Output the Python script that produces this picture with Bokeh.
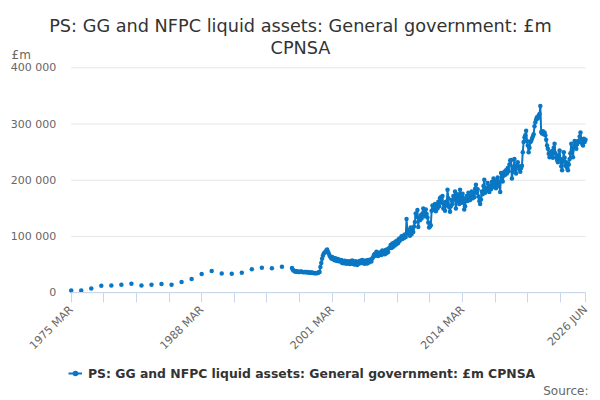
import math
from bokeh.plotting import figure
from bokeh.models import (Range1d, FixedTicker, Label, Legend, LegendItem,
                          ColumnDataSource)
from bokeh.embed import file_html
from bokeh.resources import INLINE

# ---------------- data ----------------
title_line1 = "PS: GG and NFPC liquid assets: General government: £m"
title_line2 = "CPNSA"
series_name = "PS: GG and NFPC liquid assets: General government: £m CPNSA"
unit_label = "£m"
source_label = "Source:"

# annual observations (March of each year)
annual_years = list(range(1975, 1997))
annual_values = [4200, 4200, 7700, 12500, 13000, 14300, 16000, 13000, 14300,
                 15500, 14300, 19000, 24400, 33300, 38700, 34500, 34000,
                 35700, 41700, 44600, 43500, 46400]

# monthly observations from 1997 MAR to 2026 JUN
monthly_start = "1997 MAR"
monthly_values = [
    44000, 41000, 39500, 38500, 38000, 38200, 37600, 37900, 37200, 37000,                  # 1997
    37500, 37800, 36900, 37100, 36600, 36800, 37200, 36500, 36900, 36300, 36600, 36000,    # 1998
    35800, 35500, 35900, 35200, 35000, 34800, 35300, 34900, 35100, 35400, 36500, 37200,    # 1999
    46000, 53000, 60700, 66000, 70000, 71000, 72600, 75000, 77000, 73000, 70000, 66000,    # 2000
    63700, 61000, 63500, 59500, 62000, 58000, 61500, 57500, 56500, 60000, 56000, 58500,    # 2001
    55500, 58500, 53000, 56500, 52500, 57000, 54000, 51500, 56000, 52500, 55500, 51000,    # 2002
    56000, 52000, 57500, 51000, 55000, 50500, 56000, 52500, 49500, 55000, 51500, 56500,    # 2003
    57000, 53000, 58500, 52500, 56000, 51500, 57500, 53500, 52000, 58500, 54000, 57500,    # 2004
    59000, 55500, 61000, 63000, 67000, 69000, 66000, 73000, 67500, 65500, 71000, 67000,    # 2005
    72000, 67000, 75000, 69500, 73500, 68500, 76000, 70500, 77500, 72500, 79000, 80000,    # 2006
    85000, 79500, 87500, 82000, 89000, 84000, 91000, 86500, 93000, 88500, 96000, 92500,    # 2007
    97000, 100500, 95500, 101500, 97500, 103500, 99000, 131000, 112000, 105000, 108500, 101500,  # 2008
    116000, 104000, 113000, 108000, 118000, 126000, 141000, 135000, 147000, 117000, 133000, 129000,  # 2009
    138000, 132000, 141000, 150000, 145000, 136000, 148000, 140000, 134000, 125000, 116000, 118000,  # 2010
    120000, 146000, 155000, 148000, 152000, 158000, 145000, 156000, 150000, 162000, 154000, 168000,  # 2011
    170000, 160000, 172000, 150000, 158000, 146000, 162000, 155000, 183000, 168000, 152000, 144000,  # 2012
    154000, 165000, 158000, 172000, 166000, 180000, 150000, 163000, 175000, 168000, 158000, 183000,  # 2013
    171000, 160000, 176000, 168000, 148000, 154000, 166000, 172000, 163000, 178000, 170000, 165000,  # 2014
    172000, 180000, 168000, 176000, 170000, 185000, 192000, 178000, 184000, 171000, 163000, 158000,  # 2015
    166000, 180000, 175000, 190000, 201000, 178000, 186000, 182000, 195000, 184000, 179000, 190000,  # 2016
    184000, 197000, 188000, 203000, 192000, 199000, 186000, 194000, 205000, 190000, 198000, 179000,  # 2017
    213000, 206000, 198000, 208000, 215000, 210000, 218000, 212000, 222000, 216000, 228000, 235000,  # 2018
    236000, 203000, 215000, 224000, 238000, 219000, 212000, 226000, 232000, 225000, 220000, 215000,  # 2019
    222000, 226000, 250000, 268000, 276000, 280000, 288000, 270000, 262000, 250000, 258000, 268000,  # 2020
    270000, 274000, 278000, 282000, 296000, 303000, 308000, 312000, 310000, 315000, 318000, 332000,  # 2021
    286000, 283000, 287000, 282000, 285000, 280000, 272000, 262000, 256000, 247000, 241000, 250000,  # 2022
    246000, 252000, 240000, 258000, 265000, 248000, 241000, 236000, 232000, 244000, 253000, 238000,  # 2023
    225000, 218000, 234000, 250000, 240000, 226000, 232000, 222000, 218000, 228000, 238000, 248000,  # 2024
    265000, 252000, 241000, 258000, 270000, 262000, 256000, 264000, 270000, 268000, 278000, 285000,  # 2025
    270000, 265000, 262000, 274000, 268000, 272000,                                        # 2026
]

x_tick_periods = ["1975 MAR", "1978 JUN", "1981 SEP", "1984 DEC", "1988 MAR",
                  "1991 JUN", "1994 SEP", "1997 DEC", "2001 MAR", "2004 JUN",
                  "2007 SEP", "2010 DEC", "2014 MAR", "2017 JUN", "2020 SEP",
                  "2023 DEC", "2026 JUN"]
x_tick_labels_shown = ["1975 MAR", "1988 MAR", "2001 MAR", "2014 MAR", "2026 JUN"]
y_ticks = [0, 100000, 200000, 300000, 400000]
y_tick_labels = ["0", "100 000", "200 000", "300 000", "400 000"]

# ---------------- helpers ----------------
MONTHS = ["JAN", "FEB", "MAR", "APR", "MAY", "JUN",
          "JUL", "AUG", "SEP", "OCT", "NOV", "DEC"]
BASE_YEAR, BASE_MONTH = 1975, 3


def period_index(period):
    y, m = period.split()
    return (int(y) - BASE_YEAR) * 12 + MONTHS.index(m) + 1 - BASE_MONTH


annual_x = [period_index(f"{y} MAR") for y in annual_years]
m0 = period_index(monthly_start)
monthly_x = [m0 + i for i in range(len(monthly_values))]
x_start = period_index(x_tick_periods[0])
x_end = period_index(x_tick_periods[-1])
y_min, y_max = y_ticks[0], y_ticks[-1]

# ---------------- layout (pixels) ----------------
W, H = 600, 400
PLOT_L, PLOT_R, PLOT_T, PLOT_B = 70.7, 585.0, 67.3, 292.3
px_x = (PLOT_R - PLOT_L) / (x_end - x_start)
px_y = (PLOT_B - PLOT_T) / (y_max - y_min)
xr = Range1d(x_start - PLOT_L / px_x, x_end + (W - PLOT_R) / px_x)
yr = Range1d(y_min - (H - PLOT_B) / px_y, y_max + PLOT_T / px_y)

BLUE = "#0a77c4"
FONT = "DejaVu Sans"

p = figure(width=W, height=H, output_backend="svg", toolbar_location=None,
           x_range=xr, y_range=yr,
           min_border_left=0, min_border_right=0, min_border_top=0,
           min_border_bottom=0)
p.outline_line_color = None
p.background_fill_color = "white"
p.border_fill_color = "white"
p.xgrid.visible = False
p.ygrid.visible = False

# horizontal grid lines across the plotting area
p.segment(x0=[x_start] * len(y_ticks), x1=[x_end] * len(y_ticks),
          y0=y_ticks, y1=y_ticks, line_color="#e6e6e6", line_width=1)

line_src = ColumnDataSource(dict(x=monthly_x, y=monthly_values))
dot_src = ColumnDataSource(dict(x=annual_x + monthly_x,
                                y=annual_values + monthly_values))
line_r = p.line("x", "y", source=line_src, line_color=BLUE, line_width=2)
dot_r = p.scatter("x", "y", source=dot_src, size=4.5, fill_color=BLUE,
                  line_color=BLUE, line_width=0)

# y axis
p.yaxis.fixed_location = x_start
p.yaxis.bounds = (y_min, y_max)
p.yaxis.ticker = FixedTicker(ticks=y_ticks)
p.yaxis.major_label_overrides = {t: l for t, l in zip(y_ticks, y_tick_labels)}
p.yaxis.axis_line_color = None
p.yaxis.major_tick_line_color = None
p.yaxis.major_tick_out = 0
p.yaxis.major_tick_in = 0
p.yaxis.minor_tick_line_color = None
p.yaxis.major_label_text_font = FONT
p.yaxis.major_label_text_font_size = "11px"
p.yaxis.major_label_text_color = "#666666"
p.yaxis.major_label_standoff = 15

# x axis
xt = [period_index(t) for t in x_tick_periods]
p.xaxis.fixed_location = y_min
p.xaxis.bounds = (x_start, x_end)
p.xaxis.ticker = FixedTicker(ticks=xt)
p.xaxis.major_label_overrides = {
    period_index(t): (t if t in x_tick_labels_shown else "") for t in x_tick_periods}
p.xaxis.axis_line_color = "#ccd6eb"
p.xaxis.major_tick_line_color = "#ccd6eb"
p.xaxis.major_tick_in = 0
p.xaxis.major_tick_out = 10
p.xaxis.minor_tick_line_color = None
p.xaxis.major_label_orientation = math.pi / 4
p.xaxis.major_label_text_font = FONT
p.xaxis.major_label_text_font_size = "11px"
p.xaxis.major_label_text_color = "#666666"
p.xaxis.major_label_standoff = 5

# texts (screen units, origin at the bottom-left corner of the canvas)
p.add_layout(Label(x=300, y=H - 25, x_units="screen", y_units="screen",
                   text=title_line1, text_align="center",
                   text_baseline="alphabetic", text_font=FONT,
                   text_font_size="17.7px", text_color="#333333"))
p.add_layout(Label(x=300, y=H - 47, x_units="screen", y_units="screen",
                   text=title_line2, text_align="center",
                   text_baseline="alphabetic", text_font=FONT,
                   text_font_size="17.7px", text_color="#333333"))
p.add_layout(Label(x=11, y=H - 54, x_units="screen", y_units="screen",
                   text=unit_label, text_align="left",
                   text_baseline="alphabetic", text_font=FONT,
                   text_font_size="12px", text_color="#666666"))
p.add_layout(Label(x=588, y=H - 390, x_units="screen", y_units="screen",
                   text=source_label, text_align="right",
                   text_baseline="middle", text_font=FONT,
                   text_font_size="12px", text_color="#666666"))

legend = Legend(items=[LegendItem(label=series_name, renderers=[line_r, dot_r])],
                location=(68, H - 381), orientation="horizontal",
                padding=0, margin=0, border_line_color=None,
                background_fill_alpha=0, glyph_width=14, glyph_height=16,
                label_height=16, label_standoff=6, label_text_font=FONT,
                label_text_font_size="12.4px", label_text_font_style="bold",
                label_text_color="#333333")
p.add_layout(legend)

open("out.html", "w").write(file_html(p, INLINE))
